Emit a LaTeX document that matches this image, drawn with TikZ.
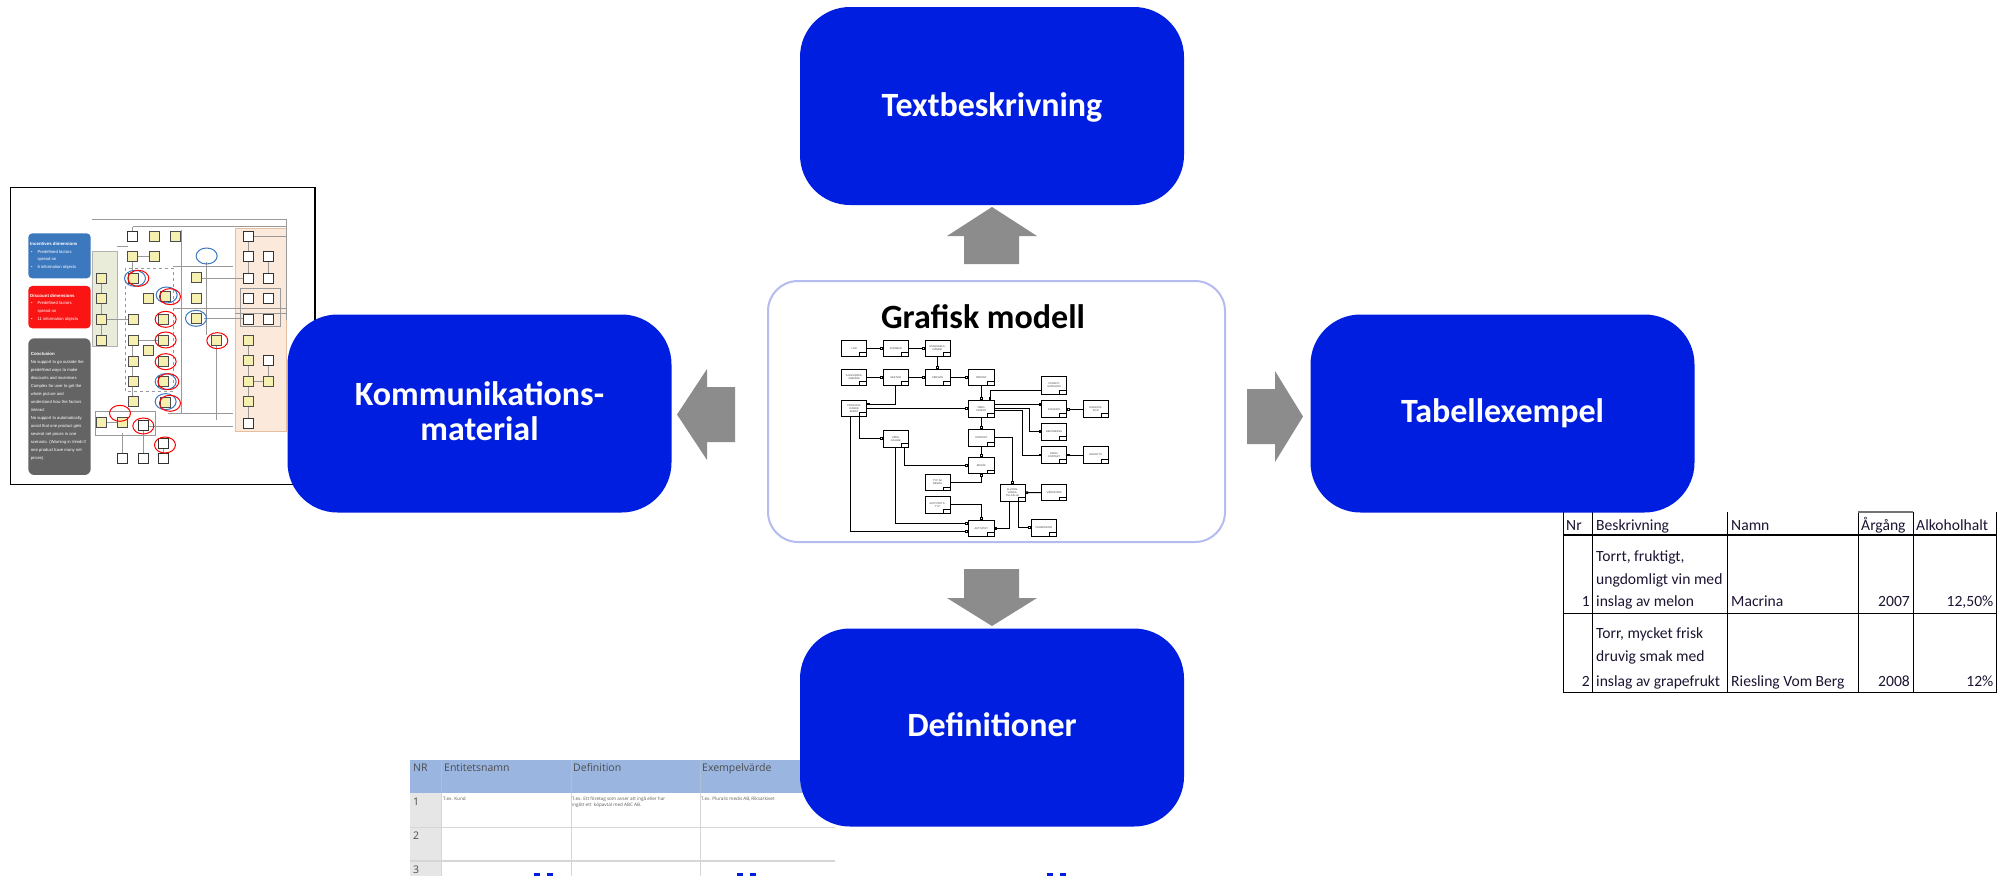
\documentclass[tikz,border=0pt]{standalone}
\usepackage{fontspec}
\setmainfont{Carlito}
\newfontfamily\osans{Open Sans}
\newfontfamily\lsans{Liberation Sans}
\usetikzlibrary{arrows.meta,calc}
\definecolor{boxblue}{RGB}{0,30,224}
\definecolor{arrowgrey}{RGB}{140,140,140}
\definecolor{frameblue}{RGB}{180,188,240}
\definecolor{hdrblue}{RGB}{154,181,224}
\definecolor{nrgrey}{RGB}{230,230,230}
\definecolor{gridgrey}{RGB}{214,214,214}
\definecolor{tabtext}{RGB}{30,20,50}
\definecolor{incblue}{RGB}{60,120,190}
\definecolor{discred}{RGB}{250,20,20}
\definecolor{concgrey}{RGB}{100,100,100}
\definecolor{beige}{RGB}{251,233,220}
\definecolor{beigeline}{RGB}{230,190,160}
\definecolor{greenpan}{RGB}{232,236,216}
\definecolor{yellowbox}{RGB}{245,240,176}
\tikzset{
  bigbox/.style={fill=boxblue, rounded corners=50pt, minimum width=384pt, minimum height=198pt, inner sep=0pt},
  biglabel/.style={text=white, font=\fontsize{34}{35}\selectfont\bfseries, anchor=base, inner sep=0pt},
  blockarrow/.style={fill=arrowgrey},
  gbox/.style={draw=black, line width=0.9pt, fill=white, minimum width=25pt, minimum height=16.7pt,
    inner sep=0.3pt, font=\lsans\fontsize{2.6}{2.9}\selectfont, text=black!75, align=center,
    path picture={\draw[line width=0.5pt] ($(path picture bounding box.south east)+(-7pt,0pt)$) rectangle ($(path picture bounding box.south east)+(0pt,4pt)$);}},
  gl/.style={line width=1pt, -{Square[length=2.6pt,width=2.6pt,fill=white]}},
  tabcell/.style={font=\fontsize{15.6}{18}\selectfont, text=tabtext, inner sep=0pt},
  deftext/.style={font=\osans\fontsize{10.5}{12}\selectfont, text=black!70, inner sep=0pt, anchor=base west},
  deftiny/.style={font=\osans\fontsize{4.6}{6.3}\selectfont, text=black!65, inner sep=0pt, anchor=base west},
  ybox/.style={draw=black!70, line width=0.4pt, fill=yellowbox},
  wbox/.style={draw=black!80, line width=0.5pt, fill=white},
  thinline/.style={draw=black!40, line width=0.4pt},
  bcirc/.style={draw=incblue, line width=1pt},
  rcirc/.style={draw=red, line width=1pt},
  thumbtext/.style={text=white, font=\lsans\fontsize{4.2}{8}\selectfont, inner sep=0pt, anchor=base west},
  thumbhead/.style={text=white, font=\lsans\bfseries\fontsize{4.4}{8}\selectfont, inner sep=0pt, anchor=base west}
}
\begin{document}
\begin{tikzpicture}[x=1pt,y=-1pt]
\useasboundingbox (0,0) rectangle (2007,876);
\fill[white] (0,0) rectangle (2007,876);

% ---------------- left thumbnail (communication material) ----------------
\begin{scope}[shift={(0,180)}, x=0.3333pt, y=-0.3333pt]
  \fill[white] (32,22) rectangle (945,913);
  \draw[fill=beige, draw=beigeline, line width=0.4pt] (705,145) rectangle (860,755);
  \draw[fill=greenpan, draw=black!30, line width=0.4pt] (278,213) rectangle (352,500);
  \draw[black!40, dashed, line width=0.35pt] (375,265) rectangle (520,635);
  \draw[black!40, line width=0.35pt] (285,695) rectangle (465,765);
  \draw[black!40, line width=0.35pt] (720,325) rectangle (840,440);
  \draw[thinline] (275,118) -- (860,118);
  \draw[thinline] (398,140) -- (860,140) (398,140) -- (398,153);
  \draw[thinline] (352,200) -- (383,200) (413,230) -- (447,230) (398,245) -- (398,280);
  \draw[thinline] (305,310) -- (305,340) (305,370) -- (305,403) (305,433) -- (305,465);
  \draw[thinline] (320,418) -- (385,418) (415,480) -- (475,480) (398,495) -- (398,530);
  \draw[thinline] (398,560) -- (398,590) (398,620) -- (398,650) (520,260) -- (700,260);
  \draw[thinline] (520,385) -- (860,385) (603,295) -- (730,295) (505,700) -- (700,700);
  \draw[thinline] (445,740) -- (700,740) (705,400) -- (860,400) (490,805) -- (490,820);
  \draw[thinline] (430,750) -- (430,820) (368,760) -- (368,820) (320,728) -- (352,728);
  \draw[thinline] (612,415) -- (730,415) (545,150) -- (545,700) (620,245) -- (620,465);
  \draw[thinline] (760,168) -- (860,168) (860,120) -- (860,420) (650,495) -- (650,720);
  \draw[thinline] (745,183) -- (745,215) (745,245) -- (745,280) (805,245) -- (805,280);
  \draw[thinline] (745,495) -- (745,525) (745,555) -- (745,590) (805,555) -- (805,590);
  \draw[thinline] (760,605) -- (790,605) (745,620) -- (745,650) (745,680) -- (745,715);
  \foreach \px/\py in {462/168,525/168,398/230,462/230,305/295,400/295,588/293,
      305/355,445/355,497/350,588/355,305/418,400/418,490/418,590/415,
      305/480,400/480,490/480,648/480,445/510,400/545,490/545,400/605,490/605,
      400/665,497/668,305/728,367/728,745/480,745/540,745/605,805/605,745/665}
    \draw[ybox] (\px-15,\py-15) rectangle ++(30,30);
  \foreach \px/\py in {398/168,430/735,490/790,368/835,430/835,490/835,
      745/168,745/230,805/230,745/295,805/295,745/355,805/355,745/418,805/418,805/540,745/730}
    \draw[wbox] (\px-15,\py-15) rectangle ++(30,30);
  \foreach \px/\py in {620/228,405/295,500/345,588/415,497/605,497/665}
    \draw[bcirc] (\px,\py) ellipse [x radius=10.5pt, y radius=8pt];
  \foreach \px/\py in {415/295,510/350,497/418,497/480,652/482,497/545,505/605,510/670,360/700,430/738,495/795}
    \draw[rcirc] (\px,\py) ellipse [x radius=10.5pt, y radius=8pt];
  % dimension boxes
  \fill[incblue, rounded corners=4pt] (85,160) rectangle (272,295);
  \fill[discred, rounded corners=4pt] (85,318) rectangle (272,445);
  \fill[concgrey, rounded corners=6pt] (85,475) rectangle (272,885);
  \node[thumbhead] (inc1) at (90,197) {Incentives dimensions};
  \node[thumbtext] (inc2) at (93,220) {•};
  \node[thumbtext] (inc3) at (112,220) {Predefined factors};
  \node[thumbtext] (inc3b) at (112,243) {spread on};
  \node[thumbtext] (inc4) at (93,267) {•};
  \node[thumbtext] (inc5) at (112,267) {6 information objects};
  \node[thumbhead] (dis1) at (90,352) {Discount dimensions};
  \node[thumbtext] (dis2) at (93,374) {•};
  \node[thumbtext] (dis3) at (112,374) {Predefined factors};
  \node[thumbtext] (dis3b) at (112,398) {spread on};
  \node[thumbtext] (dis4) at (93,421) {•};
  \node[thumbtext] (dis5) at (112,421) {11 information objects};
  \foreach \ln [count=\i from 0] in {No support to go outside the,predefined ways to make,discounts and incentives,Complex for user to get the,whole picture and,understand how the factors,interact,No support to automatically,avoid that one product gets,several net prices in one,{scenario. (Warning in Vendi if},one product have many net,prices)}
    \node[thumbtext] (conc\i) at (92,552+24*\i) {\ln};
  \node[thumbhead] (conch) at (92,527) {Conclusion};
  \draw[line width=1.5pt] (32,22) rectangle (945,913);
\end{scope}

% ---------------- right table ----------------
\begin{scope}
  \draw[black, line width=1.3pt] (1563.3,511.7) -- (1563.3,692.7) -- (1996.7,692.7) -- (1996.7,511.7);
  \foreach \cx in {1592.7,1727.7,1858.3,1913.3} \draw[black, line width=1.3pt] (\cx,511.7) -- (\cx,692.7);
  \draw[black, line width=1.3pt] (1563.3,535) -- (1996.7,535) (1563.3,613.3) -- (1996.7,613.3);
  \draw[black!55, line width=1.6pt] (1858.3,511.7) -- (1913.3,511.7);
  \node[tabcell, anchor=base west] (h1) at (1566,530.7) {Nr};
  \node[tabcell, anchor=base west] (h2) at (1596,530.7) {Beskrivning};
  \node[tabcell, anchor=base west] (h3) at (1731,530.7) {Namn};
  \node[tabcell, anchor=base west] (h4) at (1861,530.7) {Årgång};
  \node[tabcell, anchor=base west] (h5) at (1916,530.7) {Alkoholhalt};
  \node[tabcell, anchor=base west] (r1a) at (1596,561.7) {Torrt, fruktigt,};
  \node[tabcell, anchor=base west] (r1b) at (1596,584) {ungdomligt vin med};
  \node[tabcell, anchor=base west] (r1c) at (1596,606.7) {inslag av melon};
  \node[tabcell, anchor=base east] (r1n) at (1590,606.7) {1};
  \node[tabcell, anchor=base west] (r1d) at (1731,606.7) {Macrina};
  \node[tabcell, anchor=base east] (r1e) at (1910,606.7) {2007};
  \node[tabcell, anchor=base east] (r1f) at (1993.5,606.7) {12,50\%};
  \node[tabcell, anchor=base west] (r2a) at (1596,638.3) {Torr, mycket frisk};
  \node[tabcell, anchor=base west] (r2b) at (1596,661.7) {druvig smak med};
  \node[tabcell, anchor=base west] (r2c) at (1596,686.3) {inslag av grapefrukt};
  \node[tabcell, anchor=base east] (r2n) at (1590,686.3) {2};
  \node[tabcell, anchor=base west] (r2d) at (1731,686.3) {Riesling Vom Berg};
  \node[tabcell, anchor=base east] (r2e) at (1910,686.3) {2008};
  \node[tabcell, anchor=base east] (r2f) at (1993.5,686.3) {12\%};
\end{scope}

% ---------------- bottom table ----------------
\fill[hdrblue] (410,760) rectangle (835,793.3);
\fill[nrgrey] (410,793.3) rectangle (441.7,876);
\draw[gridgrey, line width=1.2pt] (410,827.3) -- (835,827.3) (410,861) -- (835,861);
\foreach \cx in {441.7,571.7,700} {
  \draw[hdrblue!80!black!60, line width=0.6pt] (\cx,760) -- (\cx,793.3);
  \draw[gridgrey, line width=1pt] (\cx,793.3) -- (\cx,876);
}
\node[deftext] (dh1) at (413,771.7) {NR};
\node[deftext] (dh2) at (444,771.7) {Entitetsnamn};
\node[deftext] (dh3) at (573,771.7) {Definition};
\node[deftext] (dh4) at (702,771.7) {Exempelvärde};
\node[deftext] (dn1) at (413,805) {1};
\node[deftext] (dn2) at (413,839.5) {2};
\node[deftext] (dn3) at (413,873) {3};
\node[deftiny] (dt1) at (443,800) {T.ex. Kund};
\node[deftiny] (dt2) at (572,800) {T.ex. Ett företag som avser att ingå eller har};
\node[deftiny] (dt2b) at (572,806.5) {ingått ett \ köpavtal med ABC AB.};
\node[deftiny] (dt3) at (701,800) {T.ex. Pluralis medis AB, Riksarkivet};
\foreach \bx in {534,737,1047} {
  \fill[boxblue] (\bx,873) rectangle ++(6,3);
  \fill[boxblue] (\bx+13,873) rectangle ++(6,3);
}

% ---------------- centre box with graphic model ----------------
\node[draw=frameblue, line width=2pt, fill=white, rounded corners=30pt, minimum width=457pt, minimum height=261pt] (gm) at (996.5,411.5) {};
\node[font=\fontsize{34}{35}\selectfont\bfseries, anchor=base, inner sep=0pt] (gmt) at (983,328.3) {Grafisk modell};

\node[gbox] (lan) at (854.2,348.3) {LÄN};
\node[gbox] (kommun) at (895.8,348.3) {KOMMUN};
\node[gbox] (stads) at (937.5,348.3) {STADSDELS-\\NÄMND};
\node[gbox] (sjuk) at (854.2,377.3) {SJUKVÅRDS-\\OMRÅDE};
\node[gbox] (sektor) at (895.8,377.3) {SEKTOR};
\node[gbox] (person) at (937.5,377.3) {PERSON};
\node[gbox, minimum width=26pt] (patient) at (981.3,377.3) {PATIENT};
\node[gbox, minimum height=17.3pt] (pkat) at (1054.2,385.3) {PATIENT-\\KATEGORI};
\node[gbox, minimum height=16pt] (prod) at (854.2,408.7) {PRODUCE-\\RANDE\\ENHET};
\node[gbox, minimum width=26pt, minimum height=17.7pt] (vp) at (981.3,408.8) {VÅRD-\\PERIOD};
\node[gbox] (diag) at (1054.2,409.2) {DIAGNOS};
\node[gbox] (dkod) at (1095.8,409.2) {DIAGNOS-\\KOD};
\node[gbox] (bed) at (1054.2,431.7) {BEDÖMNING};
\node[gbox] (vg) at (895.8,438.7) {VÅRD-\\GIVARE};
\node[gbox, minimum width=26pt] (kont) at (981.3,437.8) {KONTAKT};
\node[gbox] (dk) at (1054.2,455) {DROG-\\KONTAKT};
\node[gbox] (dtyp) at (1095.8,455) {DROGTYP};
\node[gbox, minimum width=26pt] (besok) at (981.3,465.5) {BESÖK};
\node[gbox] (typ) at (937.5,482.5) {TYP AV\\BESÖK};
\node[gbox] (sluten) at (1012.5,492.7) {SLUTEN-\\VÅRDS-\\TILLFÄLLE};
\node[gbox] (vf) at (1054.2,492.5) {VÅRDFORM};
\node[gbox] (akttyp) at (937.5,504.7) {AKTIVITETS-\\TYP};
\node[gbox, minimum width=26pt] (akt) at (981.3,528.3) {AKTIVITET};
\node[gbox, minimum width=25.7pt] (perm) at (1043.8,527.7) {PERMISSION};

\draw[gl] (lan.east) -- (kommun.west);
\draw[gl] (kommun.east) -- (stads.west);
\draw[gl] (stads.south) -- (person.north);
\draw[gl] (sjuk.east) -- (sektor.west);
\draw[gl] (sektor.east) -- (person.west);
\draw[gl] (person.east) -- (patient.west);
\draw[gl] (sektor.south) |- ([yshift=4.7pt]prod.east);
\draw[gl] (patient.south) -- (vp.north);
\draw[gl] ([yshift=-4.7pt]pkat.west) -| ([xshift=8.7pt]vp.north);
\draw[gl] (prod.east) -- (prod.east -| vp.west);
\coordinate (vpa) at ([yshift=4.5pt]vp.east);
\draw[gl] (vpa) -- (vpa -| diag.west);
\draw[gl] (dkod.west) -- (diag.east);
\draw[gl] (vp.east) -| ([xshift=-11.7pt]bed.west) -- (bed.west);
\draw[gl] ([yshift=-2pt]vp.east) -| ([xshift=-19pt]dk.west) -- (dk.west);
\draw[gl] (dtyp.west) -- (dk.east);
\draw[gl] (vp.south) -- (kont.north);
\draw[gl] (kont.south) -- (besok.north);
\draw[gl] (kont.east) -| (sluten.north);
\draw[gl] ([xshift=4.8pt]prod.south) |- (vg.west);
\draw[gl] ([xshift=8.5pt]vg.south) |- (besok.west);
\draw[gl] (vg.south) |- ([yshift=5pt]akt.west);
\draw[gl] ([xshift=-3.5pt]prod.south) |- ([yshift=-3.4pt]akt.west);
\draw[gl] (typ.east) -| (besok.south);
\draw[gl] (akttyp.east) -| (akt.north);
\draw[gl] (vf.west) -- (sluten.east);
\draw[gl] ([xshift=-3.5pt]sluten.south) |- (akt.east);
\draw[gl] ([xshift=5.8pt]sluten.south) |- (perm.west);

% ---------------- blue boxes ----------------
\node[bigbox] (text) at (992,106) {};
\node[biglabel] (textl) at (992,116.7) {Textbeskrivning};
\node[bigbox] (komm) at (479.5,413.5) {};
\node[biglabel] (komml1) at (479.5,405) {Kommunikations-};
\node[biglabel] (komml2) at (479.5,440) {material};
\node[bigbox] (tab) at (1502.5,413.5) {};
\node[biglabel] (tabl) at (1502.5,422.3) {Tabellexempel};
\node[bigbox] (def) at (992,727.5) {};
\node[biglabel] (defl) at (992,736) {Definitioner};

% ---------------- grey block arrows ----------------
\fill[blockarrow] (992,207) -- (1037,236) -- (1019,236) -- (1019,264) -- (964,264) -- (964,236) -- (947,236) -- cycle;
\fill[blockarrow] (992,626) -- (1037,598) -- (1019,598) -- (1019,569) -- (964,569) -- (964,598) -- (947,598) -- cycle;
\fill[blockarrow] (677,414.5) -- (707,369) -- (707,387) -- (735,387) -- (735,442) -- (707,442) -- (707,460) -- cycle;
\fill[blockarrow] (1303,416.5) -- (1275,371) -- (1275,389) -- (1247,389) -- (1247,444) -- (1275,444) -- (1275,462) -- cycle;
\end{tikzpicture}
\end{document}
